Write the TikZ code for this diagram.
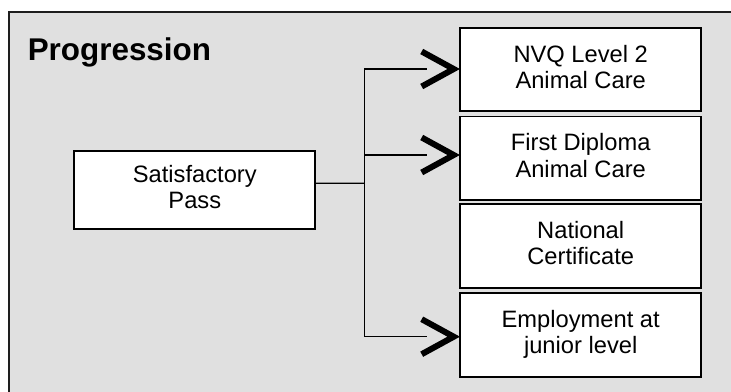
\documentclass[tikz,border=0pt]{standalone}
\usepackage{fontspec}
\setmainfont{Liberation Sans}
\definecolor{panelgrey}{HTML}{E0E0E0}
\definecolor{framedark}{HTML}{1E1E1E}
\begin{document}
\begin{tikzpicture}[x=1pt,y=-1pt,
  box/.style={draw=black, fill=white, line width=1.7pt, inner sep=0pt,
    minimum width=241pt, minimum height=83.5pt, align=center,
    text height=43.5pt, text depth=5.5pt,
    font=\fontsize{23.7}{26.5}\selectfont},
  titletext/.style={inner sep=0pt, anchor=base west,
    font=\fontsize{31.4}{34}\selectfont\bfseries},
  conn/.style={draw=black, line width=1.3pt},
  chev/.style={draw=black, line width=6pt, line join=miter, line cap=butt}]
\useasboundingbox (0,0) rectangle (731,391);
\fill[white] (0,0) rectangle (731,391);
\draw[fill=panelgrey, draw=framedark, line width=2pt] (9.3,12.3) rectangle (745,405);
\node[titletext] (title) at (27.6,60) {Progression};
\node[box, minimum height=77.7pt] (sat) at (194.8,189.9) {Satisfactory\\Pass};
\node[box] (n1) at (580.7,69.5) {NVQ Level 2\\Animal Care};
\node[box] (n2) at (580.7,158.2) {First Diploma\\Animal Care};
\node[box] (n3) at (580.7,245.9) {National\\Certificate};
\node[box] (n4) at (580.7,334.9) {Employment at\\junior level};
\coordinate (j) at (364.5,183.3);
\coordinate (e1) at (426.7,69);
\coordinate (e2) at (426.7,155);
\coordinate (e4) at (426.7,336.7);
\draw[conn] ([yshift=6.6pt]sat.east) -- (j);
\draw[conn] (e1) -| (j) |- (e4);
\draw[conn] (j) |- (e2);
\foreach \e in {e1,e2,e4}{
  \draw[chev] (\e) ++(-5,-17.5) -- ++(32,17.5) -- ++(-32,17.5);
}
\end{tikzpicture}
\end{document}
